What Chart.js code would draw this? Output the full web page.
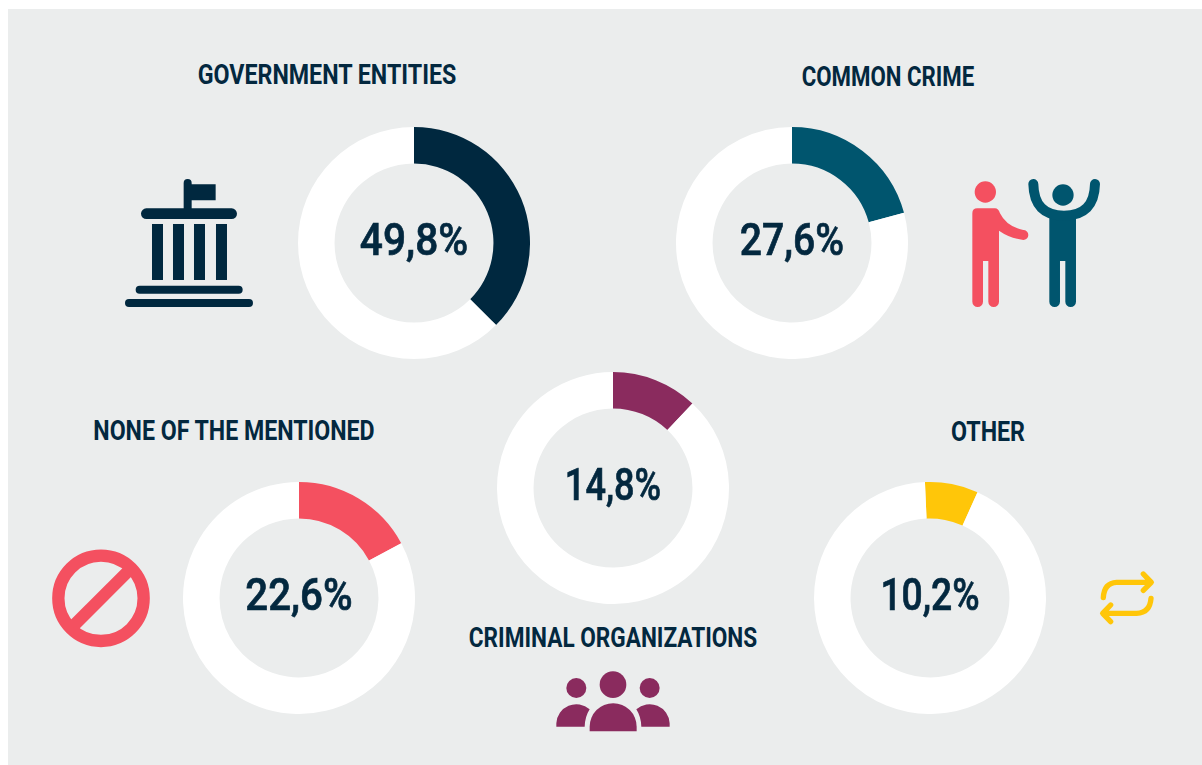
<!DOCTYPE html>
<html>
<head>
<meta charset="utf-8">
<script src="https://cdn.jsdelivr.net/npm/chart.js@4"></script>
<style>
html,body{margin:0;padding:0;background:#fff;width:1202px;height:765px;overflow:hidden}
#panel{position:absolute;left:8px;top:9px;width:1194px;height:756px;background:#ebeded}
canvas{position:absolute}
.t{position:absolute;white-space:nowrap;color:#03283f;font:700 27px "Roboto",sans-serif;line-height:30px}
#icons{position:absolute;left:0;top:0}
</style>
</head>
<body>
<div id="panel"></div>
<svg id="icons" width="1202" height="765">
  <g transform="translate(110,165) scale(.3333)" fill="#00283f">
    <path d="M221 135V54a12 12 0 0 1 24 0v4h72v48h-72v29z"/>
    <rect x="93" y="130" width="288" height="32" rx="16"/>
    <rect x="126" y="177" width="33" height="168"/><rect x="189" y="177" width="33" height="168"/>
    <rect x="252" y="177" width="33" height="168"/><rect x="318" y="177" width="33" height="168"/>
    <rect x="77" y="362" width="321" height="24" rx="12"/><rect x="45" y="402" width="384" height="24" rx="12"/>
  </g>
  <g transform="translate(960,170) scale(.3333)">
    <g fill="#f45060">
      <circle cx="76" cy="66" r="32"/>
      <path d="M37 130Q37 115 52 115H105Q115 115 120 130Q140 170 190 180A15 15 0 0 1 190 210Q150 205 117 182V395a16 16 0 0 1-32 0V273H69V395a16 16 0 0 1-32 0Z"/>
    </g>
    <g fill="#00556e">
      <circle cx="309" cy="75" r="32"/>
      <path d="M268 140H348V395a16 16 0 0 1-32 0V273H300V395a16 16 0 0 1-32 0Z"/>
      <path d="M220 42Q222 137 312 137Q403 137 405 42" fill="none" stroke="#00556e" stroke-width="30" stroke-linecap="round"/>
    </g>
  </g>
  <g transform="translate(545,660) scale(.3333)" fill="#8a2b5e">
    <circle cx="204" cy="74" r="40"/><circle cx="94" cy="84" r="30"/><circle cx="314" cy="84" r="30"/>
    <path d="M134 214V200A70 70 0 0 1 275 200V214Z"/>
    <path d="M34 200V190A60 60 0 0 1 134 148Q120 170 119 200Z"/>
    <path d="M374 200V190A60 60 0 0 0 274 148Q288 170 289 200Z"/>
  </g>
  <g transform="translate(1090,565) scale(.3333)" fill="none" stroke="#ffc609" stroke-width="16" stroke-linecap="round" stroke-linejoin="round">
    <path d="M40 98Q42 54 80 52H180M160 27L184 52L160 76"/>
    <path d="M183 100Q180 143 140 145H42M62 120L38 145L62 170"/>
  </g>
  <g transform="translate(40,540) scale(.3333)" fill="none" stroke="#f45060" stroke-width="37">
    <circle cx="183" cy="175" r="128"/>
    <path d="M268 90L98 260"/>
  </g>
</svg>
<div class="t" id="t0"></div><div class="t" id="t1"></div><div class="t" id="t2"></div><div class="t" id="t3"></div><div class="t" id="t4"></div>
<canvas id="c0"></canvas><canvas id="c1"></canvas><canvas id="c2"></canvas><canvas id="c3"></canvas><canvas id="c4"></canvas>
<script>
const categories = ["GOVERNMENT ENTITIES","COMMON CRIME","CRIMINAL ORGANIZATIONS","NONE OF THE MENTIONED","OTHER"];
const values = [49.8,27.6,14.8,22.6,10.2];
const remainders = [83,105,108.5,109,127.5];
const valueLabels = ["49,8%","27,6%","14,8%","22,6%","10,2%"];
const colors = ["#00283f","#00556e","#8a2b5e","#f45060","#ffc609"];
const startAngles = [0,0,0,0,-2.5];
const centersX = [414,792,613,299,930];
const centersY = [243,243,488,598,598];
const titleX = [327,888,613,233.5,988];
const titleY = [60,62,623,416,417];
const titleSquash = [.86,.823,.837,.857,.86];
const valueSquash = [.945,.91,.84,.936,.866];
const R = 116, BG = "#ffffff", INK = "#03283f";

const centerText = {
  id:"centerText",
  afterDraw(chart,args,opts){
    const {ctx,chartArea:a}=chart;
    ctx.save();
    ctx.fillStyle=INK;ctx.strokeStyle=INK;ctx.lineWidth=.7;
    ctx.font='500 44px "Roboto",sans-serif';
    ctx.textAlign="center";ctx.textBaseline="middle";
    ctx.translate((a.left+a.right)/2,(a.top+a.bottom)/2+1);
    ctx.scale(opts.squash*43/44,1);
    ctx.fillText(opts.text,0,0);
    ctx.strokeText(opts.text,0,0);
    ctx.restore();
  }
};
categories.forEach((name,i)=>{
  const cv=document.getElementById("c"+i);
  cv.style.left=(centersX[i]-R)+"px";cv.style.top=(centersY[i]-R)+"px";
  cv.style.width=cv.style.height=(2*R)+"px";cv.width=cv.height=2*R;
  const t=document.getElementById("t"+i);
  t.textContent=name;t.style.left=titleX[i]+"px";t.style.top=titleY[i]+"px";
  t.style.transform="translateX(-50%) scaleX("+titleSquash[i]+")";
  new Chart(cv,{
    type:"doughnut",
    data:{labels:[name,"rest"],datasets:[{data:[values[i],remainders[i]],backgroundColor:[colors[i],BG],borderWidth:0}]},
    options:{responsive:false,animation:false,cutout:"68.5%",rotation:startAngles[i],
      layout:{padding:0},
      plugins:{legend:{display:false},tooltip:{enabled:false},centerText:{text:valueLabels[i],squash:valueSquash[i]}}},
    plugins:[centerText]
  });
});
</script>
</body>
</html>
